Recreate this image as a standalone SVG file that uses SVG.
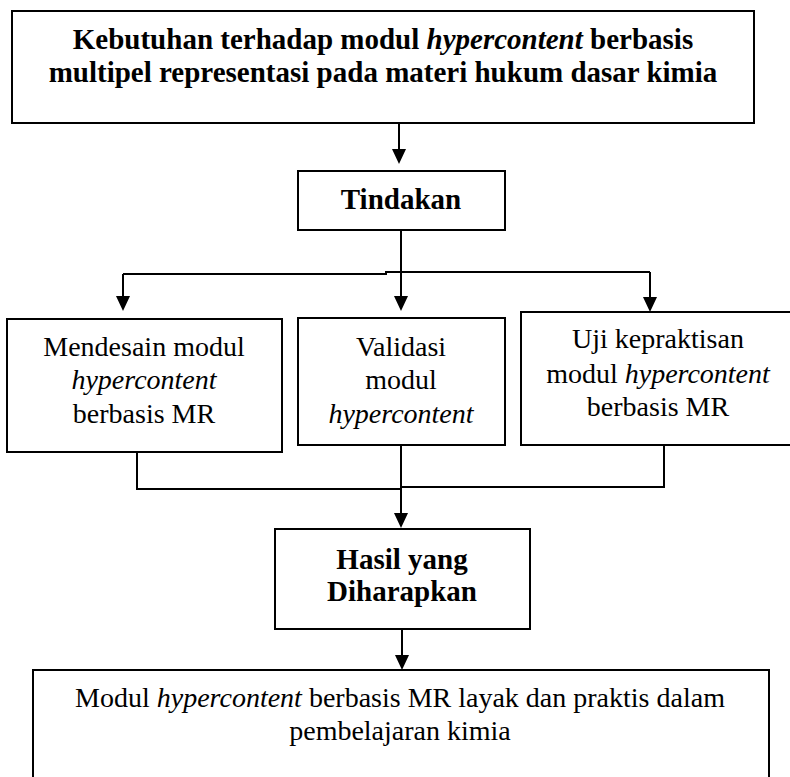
<svg xmlns="http://www.w3.org/2000/svg" width="790" height="777" viewBox="0 0 790 777">
<defs>
<style>
.box{fill:#fff;stroke:#000;stroke-width:2}
.t{font-family:"Liberation Serif","Times New Roman",serif;font-size:28px;fill:#000;text-anchor:middle}
.b{font-weight:bold;font-size:29px}
.i{font-style:italic}
.c{fill:none;stroke:#000;stroke-width:2}
</style>
<marker id="ah" markerUnits="userSpaceOnUse" markerWidth="15" markerHeight="14" refX="12" refY="7" orient="auto" viewBox="0 0 15 14">
<path d="M0,0 L15,7 L0,14 Z" fill="#000"/>
</marker>
</defs>
<rect width="790" height="777" fill="#fff"/>
<g id="connectors">
<path class="c" d="M399,121 V161" marker-end="url(#ah)"/>
<path class="c" d="M401,230 V308" marker-end="url(#ah)"/>
<path class="c" d="M123,274 H386 V272 H650"/>
<path class="c" d="M123,274 V308" marker-end="url(#ah)"/>
<path class="c" d="M650,272 V309" marker-end="url(#ah)"/>
<path class="c" d="M137,452 V489 H401"/>
<path class="c" d="M664,445 V487 H401"/>
<path class="c" d="M401,445 V525" marker-end="url(#ah)"/>
<path class="c" d="M402,629 V667" marker-end="url(#ah)"/>
</g>
<g id="n-kebutuhan">
<rect class="box" x="12" y="11" width="742" height="112"/>
<text class="t b" x="383" y="49">Kebutuhan terhadap modul <tspan class="i">hypercontent</tspan> berbasis</text>
<text class="t b" x="383" y="82">multipel representasi pada materi hukum dasar kimia</text>
</g>
<g id="n-tindakan">
<rect class="box" x="298" y="171" width="207" height="59"/>
<text class="t b" x="401" y="209">Tindakan</text>
</g>
<g id="n-mendesain">
<rect class="box" x="7" y="319" width="275" height="133"/>
<text class="t" x="144" y="356">Mendesain modul</text>
<text class="t i" x="144" y="389">hypercontent</text>
<text class="t" x="144" y="423">berbasis MR</text>
</g>
<g id="n-validasi">
<rect class="box" x="298" y="318" width="207" height="127"/>
<text class="t" x="401" y="356">Validasi</text>
<text class="t" x="401" y="389">modul</text>
<text class="t i" x="401" y="423">hypercontent</text>
</g>
<g id="n-uji">
<rect class="box" x="521" y="312" width="272" height="133"/>
<text class="t" x="658" y="348">Uji kepraktisan</text>
<text class="t" x="658" y="383">modul <tspan class="i">hypercontent</tspan></text>
<text class="t" x="658" y="416">berbasis MR</text>
</g>
<g id="n-hasil">
<rect class="box" x="275" y="529" width="255" height="100"/>
<text class="t b" x="402" y="569">Hasil yang</text>
<text class="t b" x="402" y="601">Diharapkan</text>
</g>
<g id="n-modul">
<rect class="box" x="33" y="670" width="736" height="112"/>
<text class="t" x="400" y="707">Modul <tspan class="i">hypercontent</tspan> berbasis MR layak dan praktis dalam</text>
<text class="t" x="400" y="740">pembelajaran kimia</text>
</g>
</svg>
